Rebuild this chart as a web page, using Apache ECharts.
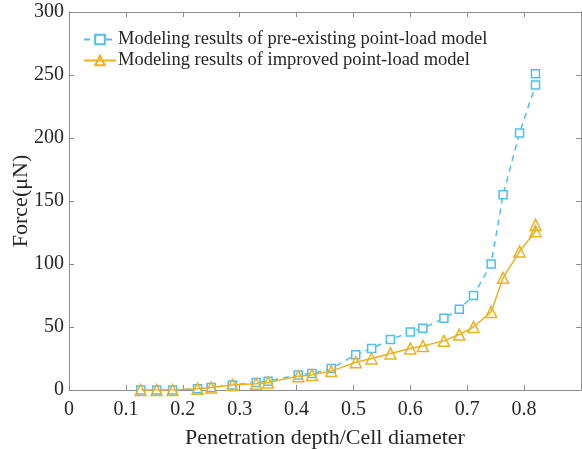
<!DOCTYPE html>
<html>
<head>
<meta charset="utf-8">
<script src="https://cdn.jsdelivr.net/npm/echarts@6/dist/echarts.min.js"></script>
<style>
  html, body { margin: 0; padding: 0; background: #fff; }
  #chart { width: 582px; height: 449px; }
</style>
</head>
<body>
<div id="chart"></div>
<script>
// penetration depth / cell diameter
var depth = [0.126, 0.154, 0.182, 0.226, 0.25, 0.287, 0.329, 0.35, 0.403, 0.427, 0.461,
  0.504, 0.532, 0.565, 0.6, 0.622, 0.659, 0.686, 0.711, 0.742, 0.763, 0.792, 0.82, 0.82]
// force, uN
var preExisting = [0, 0, 0, 1, 2, 4, 6, 7, 12, 13, 17,
  28, 33, 40, 46, 49, 57, 64, 75, 100, 155, 204, 242, 251]
var improved = [0, 0, 0, 1, 2, 4, 5, 6, 11, 12, 15,
  22, 25, 29, 33, 35, 39, 44, 50, 62, 89, 110, 126, 131]

var xTicks = [0, 0.1, 0.2, 0.3, 0.4, 0.5, 0.6, 0.7, 0.8]

var names = ['Modeling results of pre-existing point-load model',
  'Modeling results of improved point-load model']

function pairs(xs, ys) {
  return xs.map(function (x, i) { return [x, ys[i]] })
}

var font = '"Liberation Serif", "Times New Roman", serif'
var axisColor = '#8c8c8c'
var textColor = '#262626'

// top / right copies of the axes just close the box (ticks inside, no labels)
function boxAxis(base, pos) {
  return Object.assign({}, base, {
    position: pos,
    axisLine: { show: true, onZero: false, lineStyle: { color: axisColor } },
    axisTick: { show: true, inside: true, length: 5, lineStyle: { color: axisColor } },
    axisLabel: { show: false },
    splitLine: { show: false }
  })
}

var xBase = { type: 'value', min: 0, max: 0.9, interval: 0.1 }
var yBase = { type: 'value', min: 0, max: 300, interval: 50 }

var chart = echarts.init(document.getElementById('chart'))

chart.setOption({
  animation: false,
  grid: { left: 69, right: 1, top: 12, bottom: 59, outerBoundsMode: 'none', containLabel: false },
  legend: {
    left: 78,
    top: 25,
    orient: 'vertical',
    itemGap: 2,
    itemWidth: 32,
    itemHeight: 12,
    textStyle: { fontFamily: font, fontSize: 18.5, color: textColor, padding: [0, 0, 0, -3] },
    data: names
  },
  xAxis: [Object.assign({}, xBase, {
    name: 'Penetration depth/Cell diameter',
    nameLocation: 'middle',
    nameGap: 37,
    nameTextStyle: { fontFamily: font, fontSize: 22, color: textColor },
    axisLine: { onZero: false, lineStyle: { color: axisColor } },
    axisTick: { inside: true, length: 5, lineStyle: { color: axisColor } },
    axisLabel: {
      fontFamily: font, fontSize: 20, color: textColor, margin: 10,
      formatter: function (v) { return xTicks.indexOf(+v.toFixed(1)) >= 0 ? +v.toFixed(1) + '' : '' }
    },
    splitLine: { show: false }
  }), boxAxis(xBase, 'top')],
  yAxis: [Object.assign({}, yBase, {
    name: 'Force(μN)',
    nameLocation: 'middle',
    nameGap: 37,
    nameMoveOverlap: false,
    nameTextStyle: { fontFamily: font, fontSize: 22, color: textColor },
    axisLine: { show: true, onZero: false, lineStyle: { color: axisColor } },
    axisTick: { show: true, inside: true, length: 5, lineStyle: { color: axisColor } },
    axisLabel: { fontFamily: font, fontSize: 20, color: textColor, margin: 5 },
    splitLine: { show: false }
  }), boxAxis(yBase, 'right')],
  series: [{
    name: names[0],
    type: 'line',
    data: pairs(depth, preExisting),
    symbol: 'rect',
    symbolSize: 8,
    showAllSymbol: true,
    z: 2,
    lineStyle: { color: '#4DBEEE', width: 1.5, type: [6, 5] },
    itemStyle: { color: '#fff', borderColor: '#4DBEEE', borderWidth: 1.5 }
  }, {
    name: names[1],
    type: 'line',
    data: pairs(depth, improved),
    symbol: 'triangle',
    symbolSize: 11,
    showAllSymbol: true,
    z: 3,
    lineStyle: { color: '#EDB120', width: 1.5 },
    itemStyle: { color: 'rgba(255,255,255,0)', borderColor: '#EDB120', borderWidth: 1.5 }
  }]
})
</script>
</body>
</html>
